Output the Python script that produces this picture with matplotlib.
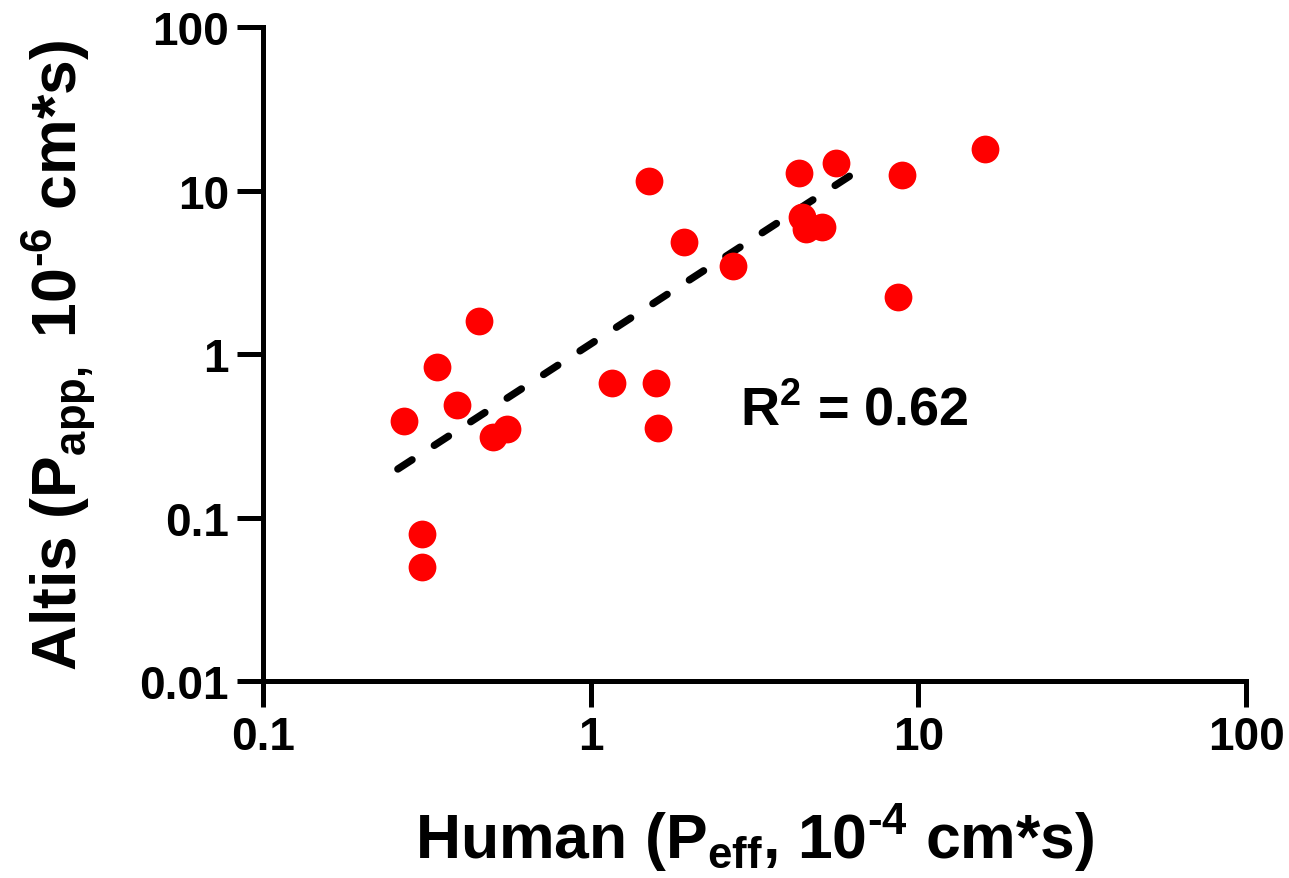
import matplotlib
matplotlib.use("Agg")
from matplotlib import pyplot as plt

# data
human_peff = [0.27, 0.34, 0.39, 0.455, 0.305, 0.305, 0.505, 0.555, 1.16, 1.51, 1.58, 1.60,
              1.92, 2.71, 4.31, 4.40, 4.53, 5.07, 5.60, 8.65, 8.90, 16.0]
altis_papp = [0.39, 0.83, 0.49, 1.59, 0.079, 0.050, 0.31, 0.348, 0.665, 11.4, 0.665, 0.352,
              4.84, 3.45, 12.8, 6.88, 5.82, 5.98, 14.7, 2.23, 12.4, 17.9]

# regression line end points
fit_x = [0.258, 6.53]
fit_y = [0.198, 13.2]

r2_text = 'R$^\\mathbf{2}$ = 0.62'

plt.rcParams['font.family'] = ['Liberation Sans', 'DejaVu Sans']
plt.rcParams['font.weight'] = 'bold'
plt.rcParams['mathtext.fontset'] = 'custom'
plt.rcParams['mathtext.rm'] = 'Liberation Sans:bold'
plt.rcParams['mathtext.bf'] = 'Liberation Sans:bold'
plt.rcParams['mathtext.default'] = 'bf'

fig = plt.figure(figsize=(12.89, 8.79), dpi=100)
ax = fig.add_axes([0.204, 0.2241, 0.7627, 0.744])

ax.plot(fit_x, fit_y, color='black', linestyle=(0, (2.3, 3.6)), linewidth=5.3,
        dash_capstyle='round', solid_capstyle='round', zorder=2)
ax.plot(human_peff, altis_papp, 'o', color='#ff0000', markersize=20, markeredgewidth=0, zorder=3)

ax.set_xscale('log')
ax.set_yscale('log')
ax.set_xlim(0.1, 100)
ax.set_ylim(0.01, 100)
ax.set_xticks([0.1, 1, 10, 100])
ax.set_xticklabels(['0.1', '1', '10', '100'])
ax.set_yticks([0.01, 0.1, 1, 10, 100])
ax.set_yticklabels(['0.01', '0.1', '1', '10', '100'])
ax.minorticks_off()

for side in ['top', 'right']:
    ax.spines[side].set_visible(False)
for side in ['left', 'bottom']:
    ax.spines[side].set_linewidth(3.6)
ax.tick_params(axis='both', which='major', length=18.5, width=3.6, labelsize=33, pad=6)

ax.set_xlabel('Human (P$_\\mathbf{eff}$, 10$^\\text{-4}$ cm*s)', fontsize=45, fontweight='bold', labelpad=30)
ax.set_ylabel('Altis (P$_\\mathbf{app,}$ 10$^\\text{-6}$ cm*s)', fontsize=45, fontweight='bold', labelpad=30)

ax.text(2.85, 0.46, r2_text, fontsize=39, fontweight='bold', va='center', ha='left')

fig.savefig('out.png', dpi=100)
